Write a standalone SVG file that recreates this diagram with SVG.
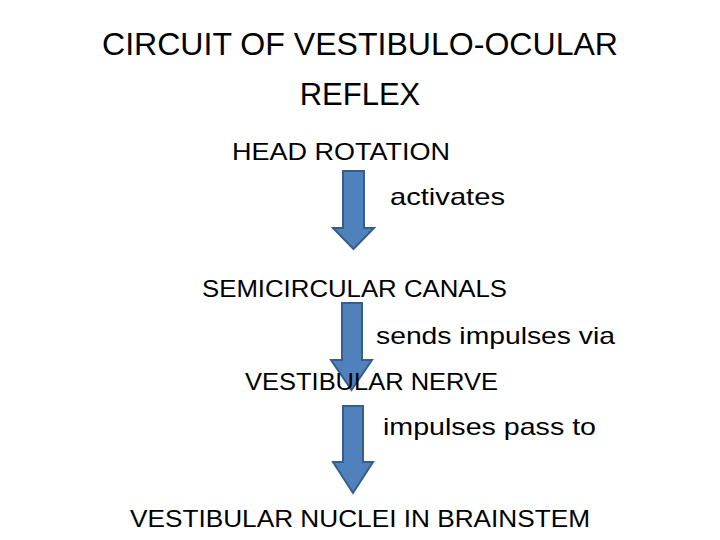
<svg xmlns="http://www.w3.org/2000/svg" width="720" height="540" viewBox="0 0 720 540">
<style>
text{font-family:"Liberation Sans",Arial,sans-serif;fill:#000}
.t{font-size:31px;text-anchor:middle}
.l{font-size:24px}
.a{fill:#4F81BD;stroke:#385D8A;stroke-width:2}
</style>
<rect width="720" height="540" fill="#fff"/>
<g id="connectors">
<path class="a" d="M343,171H364V228H374L353.5,249L333,228H343Z"/>
<path class="a" d="M342,303H362V360H372L351.5,390L331,360H342Z"/>
<path class="a" d="M343,406H363V462H373L353,493L333,462H343Z"/>
</g>
<g id="title"><text class="t" x="360" y="55" textLength="516" lengthAdjust="spacingAndGlyphs">CIRCUIT OF VESTIBULO-OCULAR</text><text class="t" x="360" y="105">REFLEX</text></g>
<g id="n1"><text class="l" x="232" y="160" textLength="218" lengthAdjust="spacingAndGlyphs">HEAD ROTATION</text></g>
<g id="e1"><text class="l" x="390" y="205" textLength="115" lengthAdjust="spacingAndGlyphs">activates</text></g>
<g id="n2"><text class="l" x="202" y="297" textLength="305" lengthAdjust="spacingAndGlyphs">SEMICIRCULAR CANALS</text></g>
<g id="e2"><text class="l" x="376" y="344" textLength="239" lengthAdjust="spacingAndGlyphs">sends impulses via</text></g>
<g id="n3"><text class="l" x="245" y="390" textLength="253" lengthAdjust="spacingAndGlyphs">VESTIBULAR NERVE</text></g>
<g id="e3"><text class="l" x="383" y="435" textLength="213" lengthAdjust="spacingAndGlyphs">impulses pass to</text></g>
<g id="n4"><text class="l" x="130" y="527" textLength="460" lengthAdjust="spacingAndGlyphs">VESTIBULAR NUCLEI IN BRAINSTEM</text></g>
</svg>
